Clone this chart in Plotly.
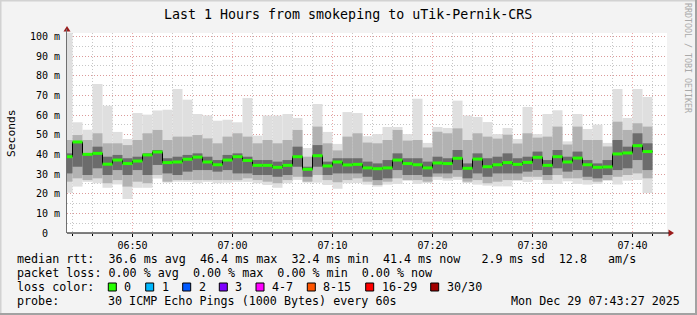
import plotly.graph_objects as go
import pandas as pd

# ---------------- data ----------------
TITLE = "Last 1 Hours from smokeping to uTik-Pernik-CRS"
interval_end = pd.date_range("2025-12-29 06:44:00", periods=59, freq="min")
x_range = ["2025-12-29 06:43:27", "2025-12-29 07:43:27"]
tick_start = "2025-12-29 06:50:00"

median_ms = [38.8, 46.3, 40.0, 40.5, 35.0, 37.1, 35.3, 36.6, 39.7, 41.2,
             35.8, 36.1, 37.5, 38.6, 36.1, 34.7, 37.1, 38.8, 36.9, 34.4,
             34.4, 33.4, 34.4, 38.8, 32.4, 39.3, 34.1, 36.1, 34.6, 34.9,
             33.1, 32.7, 33.1, 37.1, 35.3, 34.7, 33.1, 35.6, 35.3, 38.0,
             32.9, 37.6, 33.7, 34.7, 35.8, 34.9, 35.9, 38.5, 34.4, 38.8,
             36.1, 38.1, 34.7, 33.4, 33.6, 40.2, 40.7, 44.4, 41.4]
max_ms = [105.0, 56.3, 52.5, 75.8, 64.7, 51.4, 47.8, 61.0, 60.2, 62.3,
          62.7, 73.2, 67.8, 60.5, 59.8, 57.1, 57.6, 56.3, 68.6, 49.5,
          59.7, 59.7, 60.5, 58.5, 43.2, 65.6, 51.4, 45.3, 61.5, 61.0,
          49.2, 50.3, 53.9, 53.9, 50.3, 68.3, 45.8, 53.9, 53.4, 67.3,
          59.7, 59.0, 56.4, 50.3, 53.4, 47.8, 64.1, 50.3, 60.5, 62.4,
          46.6, 60.5, 52.9, 55.1, 45.8, 73.2, 58.5, 73.2, 69.2]
min_ms = [20.5, 23.6, 26.0, 25.3, 23.0, 24.7, 17.3, 23.0, 23.0, 27.7,
          25.6, 26.0, 26.0, 25.3, 26.0, 25.3, 25.6, 26.0, 26.0, 25.3,
          24.4, 23.0, 25.3, 27.0, 25.6, 25.6, 24.4, 22.5, 25.3, 25.4,
          24.6, 23.6, 24.6, 24.9, 26.6, 24.9, 25.4, 27.0, 26.6, 27.0,
          25.4, 24.6, 24.1, 23.7, 23.7, 26.6, 25.9, 27.0, 24.9, 24.9,
          26.3, 24.9, 24.6, 24.9, 26.6, 24.6, 26.6, 27.0, 20.3]
mid_hi = [47.3, 49.8, 47.3, 50.7, 45.6, 45.6, 44.7, 47.3, 50.7, 52.4,
          47.3, 49.0, 49.0, 49.8, 48.1, 45.6, 49.0, 50.7, 49.0, 45.6,
          47.3, 45.6, 47.3, 52.4, 38.8, 54.1, 45.6, 42.0, 49.0, 50.7,
          46.0, 45.6, 47.3, 52.4, 47.0, 47.3, 43.5, 51.5, 50.7, 53.2,
          47.3, 50.7, 49.0, 48.0, 50.0, 45.5, 50.7, 48.5, 49.0, 54.1,
          45.0, 54.1, 47.3, 47.3, 44.0, 56.6, 52.4, 55.8, 54.1]
mid_lo = [26.1, 27.8, 26.9, 27.8, 25.3, 26.9, 23.6, 26.1, 25.3, 29.5,
          26.1, 26.9, 26.9, 26.9, 26.9, 26.9, 26.9, 26.9, 27.8, 26.9,
          26.1, 25.3, 26.9, 28.6, 26.1, 29.5, 26.9, 25.8, 26.9, 27.8,
          26.1, 24.4, 26.1, 27.8, 26.9, 26.9, 26.1, 28.6, 27.8, 28.6,
          26.1, 26.9, 25.3, 26.1, 26.9, 26.9, 28.6, 28.6, 26.9, 29.5,
          27.8, 27.8, 26.9, 26.1, 26.9, 28.6, 29.5, 30.3, 27.8]
dark_hi = [40.5, 46.3, 40.5, 43.9, 38.8, 39.7, 38.0, 38.8, 40.5, 42.2,
           38.0, 38.8, 39.7, 40.5, 38.8, 37.1, 39.7, 40.5, 38.8, 37.1,
           37.1, 36.3, 37.1, 43.9, 33.7, 44.7, 36.3, 38.0, 38.0, 38.0,
           36.3, 35.4, 37.1, 40.5, 38.0, 38.0, 36.3, 38.8, 38.0, 42.2,
           35.4, 40.5, 38.0, 38.8, 40.5, 38.0, 38.8, 41.4, 37.1, 42.2,
           38.8, 41.4, 37.1, 35.4, 37.1, 47.3, 43.9, 50.7, 45.6]
dark_lo = [30.3, 33.7, 29.5, 32.9, 29.5, 32.0, 29.5, 32.0, 29.5, 34.6,
           30.3, 29.5, 31.2, 32.0, 32.0, 31.2, 32.0, 30.3, 30.3, 29.5,
           29.5, 28.6, 29.5, 33.7, 28.6, 33.7, 29.5, 30.3, 30.3, 30.3,
           28.6, 26.9, 27.8, 32.0, 29.5, 29.5, 28.6, 30.3, 30.3, 32.0,
           27.8, 30.3, 28.6, 30.3, 30.3, 30.3, 31.2, 32.0, 29.5, 32.9,
           31.2, 32.0, 28.6, 27.8, 29.5, 32.0, 32.9, 37.1, 32.0]

y_tick_vals = [0, 10, 20, 30, 40, 50, 60, 70, 80, 90, 100]
y_tick_text = ["0\u00a0\u00a0", "10 m", "20 m", "30 m", "40 m", "50 m",
               "60 m", "70 m", "80 m", "90 m", "100 m"]

legend_line1 = "median rtt:  36.6 ms avg  46.4 ms max  32.4 ms min  41.4 ms now   2.9 ms sd  12.8   am/s"
legend_line2 = "packet loss: 0.00 % avg  0.00 % max  0.00 % min  0.00 % now"
probe_text = "30 ICMP Echo Pings (1000 Bytes) every 60s"
stamp_text = "Mon Dec 29 07:43:27 2025"
loss_labels = ["0", "1", "2", "3", "4-7", "8-15", "16-29", "30/30"]
loss_colors = ["#26ff00", "#00b8ff", "#0059ff", "#7e00ff", "#ff00ff",
               "#ff5500", "#ff0000", "#a10000"]

# ---------------- figure ----------------
MONO = "DejaVu Sans Mono"
W, H = 697, 315
PL, PR, PT, PB = 67, 667, 33, 233


def pxx(x):
    return (x - PL) / (PR - PL)


def pxy(y):
    return (PB - y) / (PB - PT)


fig = go.Figure()


def band(lo, hi, color):
    fig.add_trace(go.Bar(
        x=interval_end, y=[h - l for h, l in zip(hi, lo)], base=lo,
        offset=-60000, width=60000,
        marker=dict(color=color, line=dict(width=0)),
        hoverinfo="skip", showlegend=False))


band(min_ms, max_ms, "#dfdfdf")
band(mid_lo, mid_hi, "#b2b2b2")
band(dark_lo, dark_hi, "#6c6c6c")

starts = [t - pd.Timedelta(minutes=1) for t in interval_end]
fig.add_trace(go.Scatter(
    x=starts + [interval_end[-1]], y=median_ms + [median_ms[-1]],
    mode="lines", line=dict(color="#000000", width=1, shape="hv"),
    hoverinfo="skip", showlegend=False))

gx, gy = [], []
for s, e, m in zip(starts, interval_end, median_ms):
    gx += [s, e, None]
    gy += [m, m, None]
fig.add_trace(go.Scatter(
    x=gx, y=gy, mode="lines", line=dict(color=loss_colors[0], width=3),
    hoverinfo="skip", showlegend=False))

ann = []


def text(x, y, s, size=11.7, xanchor="left", angle=0, color="#000000"):
    ann.append(dict(x=pxx(x), y=pxy(y), xref="paper", yref="paper",
                    text=s.replace(" ", "\u00a0"), showarrow=False,
                    xanchor=xanchor, yanchor="middle", textangle=angle,
                    font=dict(family=MONO, size=size, color=color)))


text(348, 14, TITLE, size=13.3, xanchor="center")
text(11, 133, "Seconds", size=11.3, xanchor="center", angle=-90)
text(688, 58, "RRDTOOL / TOBI OETIKER", size=8.3, xanchor="center",
     angle=90, color="#a9a9a9")
text(15, 259, legend_line1)
text(15, 273, legend_line2)
text(15, 287, "loss color:")
text(15, 301, "probe:")
text(106, 301, probe_text)
text(682, 301, stamp_text, xanchor="right")

shapes = []
box_x = [108.3, 145.7, 182.7, 219.3, 256.0, 307.3, 365.7, 430.7]
for bx, lab, col in zip(box_x, loss_labels, loss_colors):
    shapes.append(dict(type="rect", xref="paper", yref="paper",
                       x0=pxx(bx), x1=pxx(bx + 8), y0=pxy(291), y1=pxy(283),
                       fillcolor=col, line=dict(color="#000000", width=1)))
    text(bx + 14, 287, lab)

# arrows
shapes.append(dict(type="path", xref="paper", yref="paper",
                   path=f"M {pxx(63.5)} {pxy(31.5)} L {pxx(70.5)} {pxy(31.5)} L {pxx(67)} {pxy(26)} Z",
                   fillcolor="#9a1b1b", line=dict(width=0)))
shapes.append(dict(type="path", xref="paper", yref="paper",
                   path=f"M {pxx(668.5)} {pxy(229.5)} L {pxx(668.5)} {pxy(236.5)} L {pxx(674)} {pxy(233)} Z",
                   fillcolor="#9a1b1b", line=dict(width=0)))
# axis lines
shapes.append(dict(type="line", xref="paper", yref="paper",
                   x0=pxx(66.5), x1=pxx(66.5), y0=pxy(233), y1=pxy(29),
                   line=dict(color="#707070", width=1)))
shapes.append(dict(type="line", xref="paper", yref="paper",
                   x0=pxx(67), x1=pxx(669), y0=pxy(233), y1=pxy(233),
                   line=dict(color="#000000", width=1)))
# frame shading
shapes.append(dict(type="rect", xref="paper", yref="paper",
                   x0=pxx(0), x1=pxx(697), y0=pxy(0), y1=pxy(1.5),
                   fillcolor="#d2d2d2", line=dict(width=0), layer="below"))
shapes.append(dict(type="rect", xref="paper", yref="paper",
                   x0=pxx(0), x1=pxx(1.5), y0=pxy(0), y1=pxy(315),
                   fillcolor="#d2d2d2", line=dict(width=0), layer="below"))
shapes.append(dict(type="rect", xref="paper", yref="paper",
                   x0=pxx(0), x1=pxx(697), y0=pxy(313), y1=pxy(315),
                   fillcolor="#a2a2a2", line=dict(width=0), layer="below"))
shapes.append(dict(type="rect", xref="paper", yref="paper",
                   x0=pxx(695), x1=pxx(697), y0=pxy(0), y1=pxy(315),
                   fillcolor="#a2a2a2", line=dict(width=0), layer="below"))

MAJOR = "rgba(225,140,140,0.75)"
MINOR = "rgba(175,175,175,0.7)"
fig.update_layout(
    width=W, height=H,
    margin=dict(l=PL, r=W - PR, t=PT, b=H - PB, pad=0),
    paper_bgcolor="#f3f3f3", plot_bgcolor="#ffffff",
    barmode="overlay", showlegend=False,
    annotations=ann, shapes=shapes,
    xaxis=dict(type="date", range=x_range, tickformat="%H:%M",
               tick0=tick_start, dtick=600000,
               showgrid=True, gridcolor=MAJOR,
               griddash="1px,2px", gridwidth=1,
               minor=dict(dtick=120000, tick0=tick_start, showgrid=True,
                          gridcolor=MINOR,
                          griddash="1px,2px", ticks="outside", ticklen=2,
                          tickcolor="#000000"),
               ticks="outside", ticklen=3, tickcolor="#000000",
               showline=False, zeroline=False, fixedrange=True,
               tickfont=dict(family=MONO, size=10, color="#000000")),
    yaxis=dict(range=[0, 101.7], tickvals=y_tick_vals, ticktext=y_tick_text,
               showgrid=True, gridcolor=MAJOR,
               griddash="1px,2px", gridwidth=1,
               minor=dict(dtick=5, tick0=0, showgrid=True,
                          gridcolor=MINOR, griddash="1px,2px"),
               ticks="", ticklabelstandoff=6,
               showline=False, zeroline=False, fixedrange=True,
               tickfont=dict(family=MONO, size=10, color="#000000")),
)

fig.write_html("out.html")
